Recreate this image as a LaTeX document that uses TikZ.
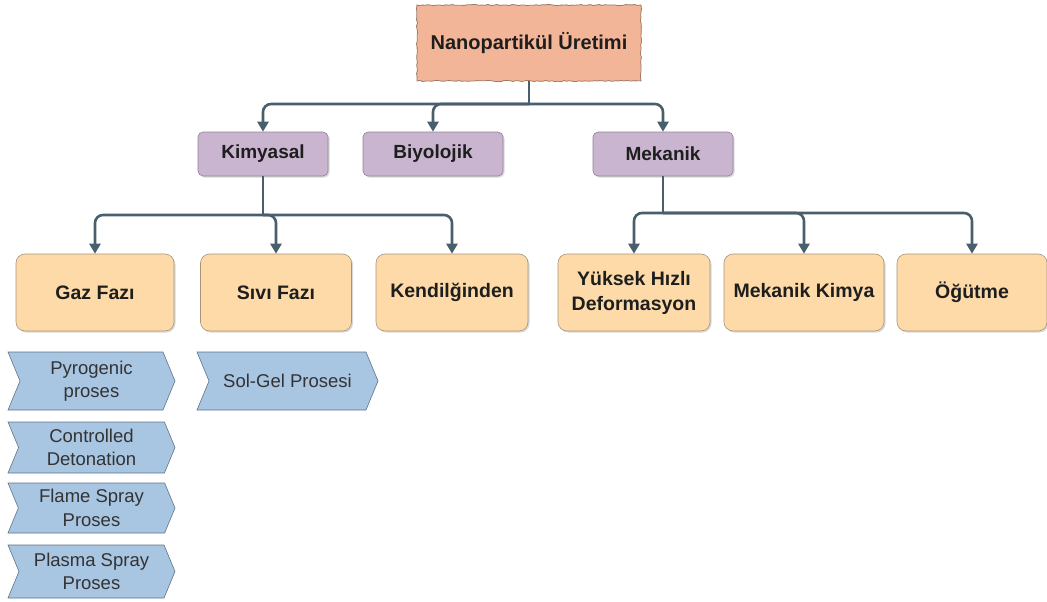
\documentclass[tikz,border=0pt]{standalone}
\usepackage{fontspec}
\setmainfont{Liberation Sans}
\usetikzlibrary{shapes.symbols,shadows,decorations.pathmorphing,arrows.meta}
\definecolor{salmon}{HTML}{F3B597}
\definecolor{salmonB}{HTML}{9E7A66}
\definecolor{lilac}{HTML}{C9B5CF}
\definecolor{lilacB}{HTML}{8E8292}
\definecolor{peach}{HTML}{FDDAA8}
\definecolor{peachB}{HTML}{A79477}
\definecolor{skyb}{HTML}{A8C5E2}
\definecolor{skybB}{HTML}{5F7488}
\definecolor{conncol}{HTML}{4A5F6E}
\definecolor{txt}{HTML}{1E1E1E}
\tikzset{
  shad/.style={drop shadow={shadow xshift=1.5pt,shadow yshift=-1.5pt,opacity=0.25,fill=black!60}},
  topbox/.style={draw=salmonB,fill=salmon,line width=0.8pt,minimum width=224pt,minimum height=76pt,
     font=\fontsize{20}{24}\selectfont\bfseries,text=txt,
     decoration={random steps,segment length=3pt,amplitude=0.6pt},decorate},
  catbox/.style={draw=lilacB,fill=lilac,rounded corners=5pt,line width=0.6pt,minimum height=44pt,
     minimum width=132pt,font=\fontsize{19}{22}\selectfont\bfseries,text=txt,shad},
  subbox/.style={draw=peachB,fill=peach,rounded corners=9pt,line width=0.6pt,minimum height=77pt,
     minimum width=152pt,font=\fontsize{19.5}{25}\selectfont\bfseries,text=txt,align=center,shad},
  chev/.style={shape=signal,signal from=west,signal to=east,signal pointer angle=135,
     draw=skybB,fill=skyb,line width=0.6pt,inner sep=1pt,align=center,
     font=\fontsize{18.5}{23.5}\selectfont,text=black!80},
  conn/.style={draw=conncol,line width=2.6pt,rounded corners=8pt},
  arr/.style={conn,-{Triangle[width=11pt,length=10pt]}},
}
\begin{document}
\begin{tikzpicture}[x=1pt,y=-1pt]
\useasboundingbox (0,0) rectangle (1047,602);
% top
\node[topbox] (top) at (529,43) {Nanopartikül Üretimi};
% categories
\node[catbox,minimum width=130pt] (kim) at (263,154) {Kimyasal};
\node[catbox,minimum width=140pt] (bio) at (433,154) {Biyolojik};
\node[catbox,minimum width=140pt] (mek) at (663,154) {Mekanik};
% subcategories
\node[subbox,minimum width=158pt] (gaz) at (95,292.5) {Gaz Fazı};
\node[subbox,minimum width=151pt] (siv) at (276,292.5) {Sıvı Fazı};
\node[subbox,minimum width=152pt] (ken) at (452,292.5) {Kendilğinden};
\node[subbox,minimum width=152pt] (yuk) at (634,292.5) {Yüksek Hızlı\\Deformasyon};
\node[subbox,minimum width=160pt] (mkk) at (804,292.5) {Mekanik Kimya};
\node[subbox,minimum width=150pt] (ogu) at (972,292.5) {Öğütme};
% processes
\node[chev,minimum width=167pt,minimum height=58pt] (pyr) at (91.5,381) {Pyrogenic\\proses};
\node[chev,minimum width=167pt,minimum height=51pt] (con) at (91.5,447.5) {Controlled\\Detonation};
\node[chev,minimum width=167pt,minimum height=50pt] (fla) at (91.5,508) {Flame Spray\\Proses};
\node[chev,minimum width=167pt,minimum height=53pt] (pla) at (91.5,571.5) {Plasma Spray\\Proses};
\node[chev,minimum width=181pt,minimum height=58pt] (sol) at (287.5,381) {Sol-Gel Prosesi};
% connectors level 1
\draw[conn] (top.south) -- (529,104) coordinate (j1);
\draw[arr] (j1) -| (kim.north);
\draw[arr] (j1) -| (bio.north);
\draw[arr] (j1) -| (mek.north);
% connectors level 2
\draw[conn] (kim.south) -- (263,215) coordinate (j2);
\draw[arr] (j2) -| (gaz.north);
\draw[arr] (j2) -| (siv.north);
\draw[arr] (j2) -| (ken.north);
\draw[conn] (mek.south) -- (663,213) coordinate (j3);
\draw[arr] (j3) -| (yuk.north);
\draw[arr] (j3) -| (mkk.north);
\draw[arr] (j3) -| (ogu.north);
\end{tikzpicture}
\end{document}
